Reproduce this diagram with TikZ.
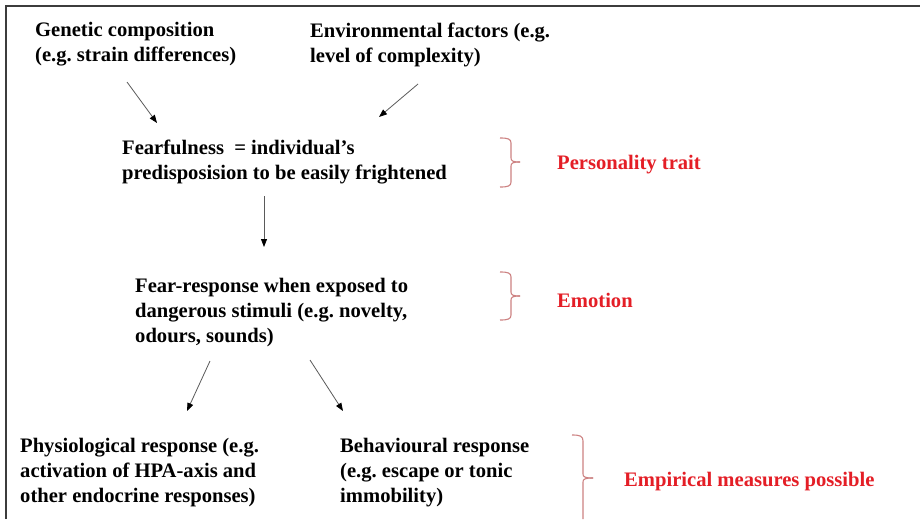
\documentclass[tikz,border=0pt]{standalone}
\usepackage{fontspec}
\setmainfont{Liberation Serif}
\usetikzlibrary{arrows.meta}
\frenchspacing
\definecolor{redtxt}{RGB}{228,30,38}
\definecolor{bracec}{RGB}{205,130,130}
\definecolor{framec}{RGB}{60,60,60}
\definecolor{arrc}{RGB}{90,90,90}
\newcommand\mybrace[6]{% xl xv xr yt ym yb
  \draw[bracestyle] (#1,#4) .. controls (#2-3,#4) and (#2,#4+1) .. (#2,#4+5) -- (#2,#5-4) .. controls (#2,#5-1) and (#2+2,#5) .. (#3,#5);
  \draw[bracestyle] (#3,#5) .. controls (#2+2,#5) and (#2,#5+1) .. (#2,#5+4) -- (#2,#6-5) .. controls (#2,#6-1) and (#2-3,#6) .. (#1,#6);
}
\begin{document}
\begin{tikzpicture}[x=1pt,y=-1pt,
  txt/.style={anchor=north west,inner sep=0pt,align=left,font=\fontsize{20.6}{24.8}\selectfont\bfseries},
  redlbl/.style={anchor=west,inner sep=0pt,font=\fontsize{20.6}{24.8}\selectfont\bfseries,text=redtxt},
  conn/.style={draw=arrc,line width=0.8pt,-{Triangle[length=8pt,width=6pt,fill=black,color=black]}},
  bracestyle/.style={draw=bracec,line width=1.1pt},
  framestyle/.style={draw=framec,line width=1.6pt}]
\useasboundingbox (0,0) rectangle (920,519);
\fill[white] (0,0) rectangle (920,519);
\draw[framestyle] (6,519) -- (6,6) -- (920,6);

\node[txt] (gen) at (35,22.5) {Genetic composition\\(e.g. strain differences)};
\node[txt] (env) at (310,22.5) {Environmental factors (e.g.\\level of complexity)};
\node[txt] (fear) at (122,139.5) {Fearfulness \ = individual’s\\predisposision to be easily frightened};
\node[txt] (resp) at (135,278) {Fear-response when exposed to\\dangerous stimuli (e.g. novelty,\\odours, sounds)};
\node[txt] (phys) at (20,438) {Physiological response (e.g.\\activation of HPA-axis and\\other endocrine responses)};
\node[txt] (beh) at (340,438) {Behavioural response\\(e.g. escape or tonic\\immobility)};

\node[redlbl] (pers) at (557,165) {Personality trait};
\node[redlbl] (emo) at (557,300) {Emotion};
\node[redlbl] (emp) at (624,482) {Empirical measures possible};

\coordinate (a1s) at (127,82);  \coordinate (a1e) at (157,123);
\coordinate (a2s) at (418,84);  \coordinate (a2e) at (379,117);
\coordinate (a3s) at (264,196); \coordinate (a3e) at (264,247);
\coordinate (a4s) at (210,361); \coordinate (a4e) at (187,411);
\coordinate (a5s) at (310,360); \coordinate (a5e) at (343,411);
\draw[conn] (a1s) -- (a1e);
\draw[conn] (a2s) -- (a2e);
\draw[conn] (a3s) -- (a3e);
\draw[conn] (a4s) -- (a4e);
\draw[conn] (a5s) -- (a5e);

\mybrace{500}{511}{520}{138}{162}{187}
\mybrace{500}{511}{520}{272}{296}{320}
\draw[bracestyle] (572,435) .. controls (580,435) and (583,436) .. (583,441) -- (583,474) .. controls (583,477) and (585,478) .. (593,478);
\draw[bracestyle] (593,478) .. controls (585,478) and (583,479) .. (583,482) -- (583,519);
\end{tikzpicture}
\end{document}
